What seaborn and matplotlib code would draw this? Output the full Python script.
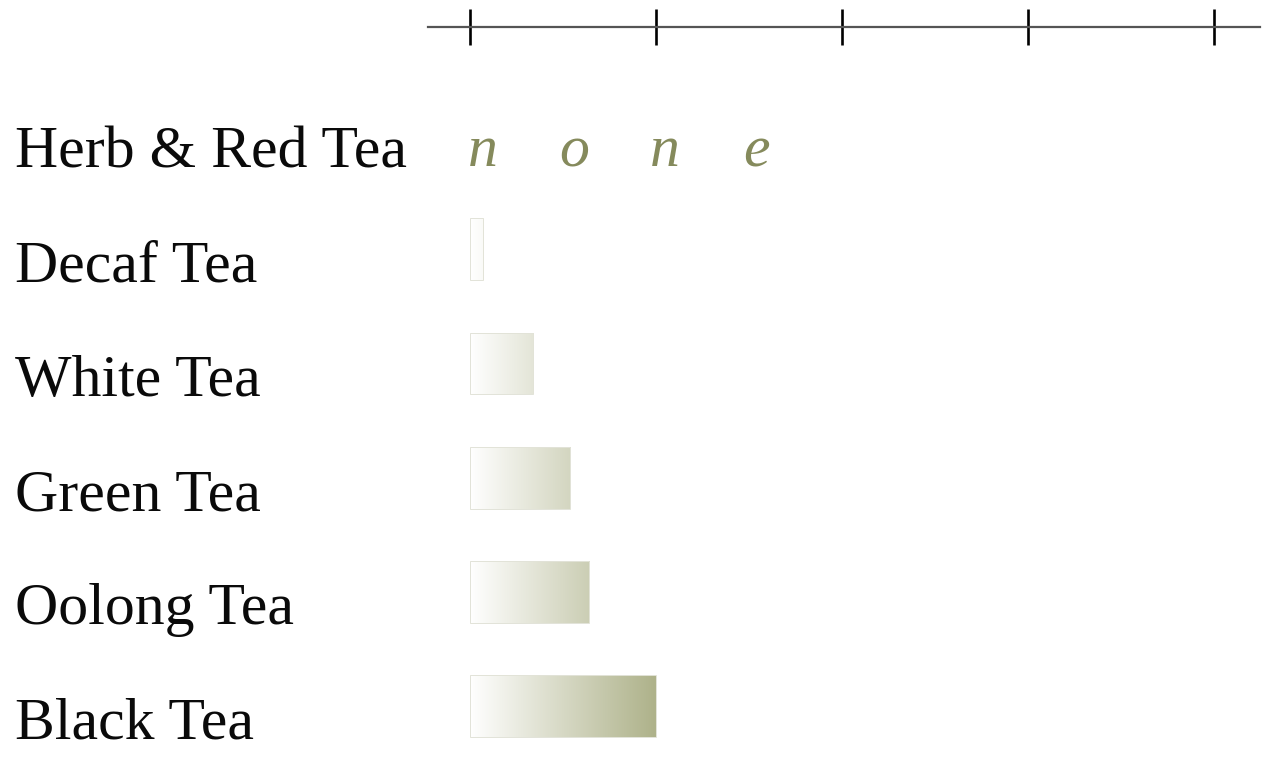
import numpy as np
import pandas as pd
import matplotlib.pyplot as plt
import matplotlib.transforms as mtransforms
from matplotlib.colors import LinearSegmentedColormap
import seaborn as sns

# caffeine per cup (mg)
teas = ["Herb & Red Tea", "Decaf Tea", "White Tea", "Green Tea", "Oolong Tea", "Black Tea"]
caffeine = [0, 3.5, 17, 27, 32, 50]
ticks = [0, 50, 100, 150, 200]
none_text = "none"

df = pd.DataFrame({"tea": teas, "mg": caffeine})

sns.set_style("white")
plt.rcParams["font.family"] = ["Liberation Serif", "DejaVu Serif"]

fig = plt.figure(figsize=(12.78, 7.6), dpi=100)
ax = fig.add_axes([428 / 1278, 0.0, (1260 - 428) / 1278, 1 - 27 / 760])

sns.barplot(data=df, y="tea", x="mg", orient="h", color="#e4e5da",
            width=0.54, saturation=1, ax=ax)

xlim = (-11.3, 212.4)
ylim = (5.47, -0.946)

# white -> olive gradient along x, clipped to each bar
cmap = LinearSegmentedColormap.from_list("tea", ["#ffffff", "#aeb28a"])
grad = np.linspace(0, 1, 256).reshape(1, -1)
for p in ax.patches:
    if p.get_width() <= 0:
        continue
    im = ax.imshow(grad, cmap=cmap, vmin=0, vmax=1, aspect="auto",
                   extent=[0, max(caffeine), ylim[0], ylim[1]], zorder=3)
    im.set_clip_path(p)
    p.set_facecolor("none")
    p.set_edgecolor("#e2e3d8")
    p.set_linewidth(0.7)
    p.set_zorder(4)
ax.set_xlim(*xlim)
ax.set_ylim(*ylim)

# axis on top with crossing ticks
ax.xaxis.tick_top()
ax.set_xticks(ticks)
ax.set_xticklabels([str(t) for t in ticks], fontsize=43, color="#d0d0d0")
ax.tick_params(axis="x", direction="inout", length=26.5, width=1.9,
               color="black", pad=4)
ax.tick_params(axis="y", left=False, labelleft=False)
ax.set_xlabel("")
ax.set_ylabel("")
for side in ["right", "bottom", "left"]:
    ax.spines[side].set_visible(False)
ax.spines["top"].set_color("#555555")
ax.spines["top"].set_linewidth(1.6)
ax.grid(False)

# row labels at the left edge of the figure
trans = mtransforms.blended_transform_factory(fig.transFigure, ax.transData)
for i, name in enumerate(teas):
    ax.text(15 / 1278, i + 0.16, name, transform=trans, ha="left", va="center",
            fontsize=43, color="#0a0a0a", clip_on=False)

# spaced italic "none" for the caffeine-free row
for j, ch in enumerate(none_text):
    ax.text(3.5 + j * 24.5, 0.15, ch, ha="center", va="center", fontsize=43,
            style="italic", color="#858a5c")

fig.savefig("out.png", dpi=100, facecolor="white")
plt.close(fig)
